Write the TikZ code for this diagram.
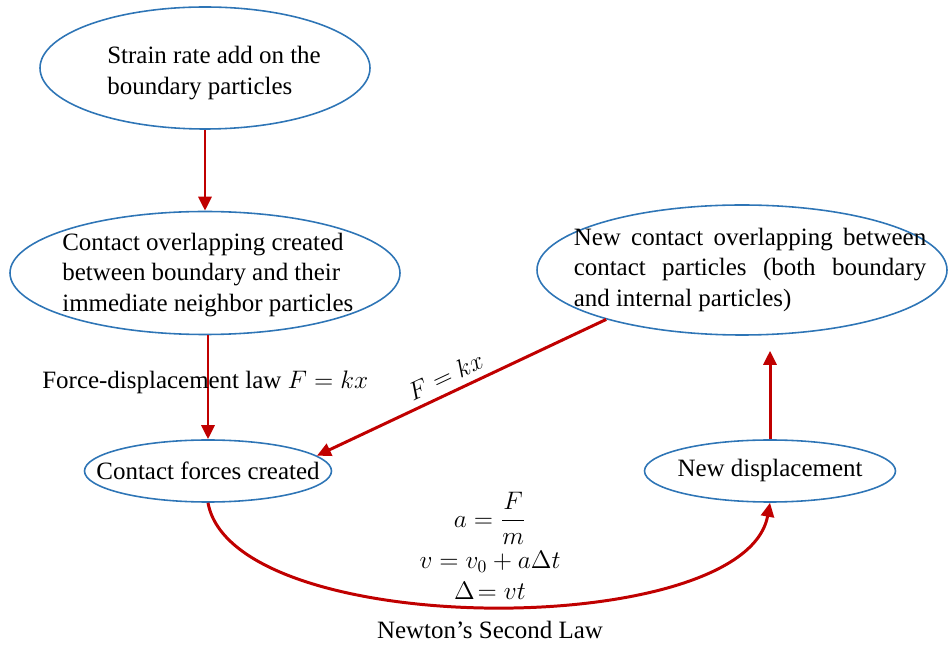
\documentclass[tikz,border=0pt]{standalone}
\usepackage{amsmath}
\usepackage{fontspec}
\setmainfont{Liberation Serif}
\usetikzlibrary{shapes.geometric, positioning, arrows.meta, calc}
\definecolor{ellblue}{RGB}{46,117,182}
\definecolor{arrred}{RGB}{192,0,0}
\tikzset{
  bubble/.style={ellipse, draw=ellblue, line width=0.9pt, inner sep=0pt},
  flow/.style={draw=arrred, line width=1.7pt, -{Triangle[length=0.28cm,width=0.26cm]}},
  txt/.style={font=\fontsize{14.2}{17.4}\selectfont, inner sep=0pt}
}

\begin{document}
\begin{tikzpicture}
        \useasboundingbox (0,0) rectangle (18.96,12.9);

        % Ellipses
        \node[bubble, minimum width=6.6cm, minimum height=2.44cm] (strain) at (4.1,11.54) {};
        \node[bubble, minimum width=7.8cm, minimum height=2.46cm] (overlap) at (4.1,7.44) {};
        \node[bubble, minimum width=8.2cm, minimum height=2.6cm] (newover) at (14.84,7.5) {};
        \node[bubble, minimum width=4.94cm, minimum height=1.24cm] (forces) at (4.16,3.48) {};
        \node[bubble, minimum width=5.02cm, minimum height=1.24cm] (newdisp) at (15.4,3.48) {};

        % Texts inside the ellipses
        \node[txt, align=left, anchor=west] (straintxt) at (2.14,11.44) {Strain rate add on the\\boundary particles};
        \node[txt, align=left, anchor=west] (overlaptxt) at (1.24,7.4) {Contact overlapping created\\between boundary and their\\immediate neighbor particles};
        \node[txt, text width=7.05cm, align=justify] (newovertxt) at (15.0,7.5) {New contact overlapping between\linebreak contact particles (both boundary\linebreak and internal particles)};
        \node[txt] (forcestxt) at (forces) {Contact forces created};
        \node[txt] (newdisptxt) at (newdisp) {New displacement};

        % Straight arrows
        \draw[flow] (strain.south) -- (overlap.north);
        \draw[flow] (forces.north |- overlap.south) -- (forces.north);
        \draw[flow] (newover.200) -- node[txt, sloped, above=4pt, pos=0.53] {$F = kx$} (forces.8);
        \draw[flow, shorten >=0.3cm] (newdisp.north) -- (newdisp.north |- newover.south);

        % Newton's law curve
        \draw[flow] (forces.south) .. controls (4.66,0.08) and (14.9,0.08) .. (newdisp.south);

        % Labels
        \node[txt, anchor=west] (lawlbl) at (0.84,5.26) {Force-displacement law $F = kx$};
        \node[txt, align=center] (newtoneq) at (9.8,1.98) {$a = \dfrac{F}{m}$\\[3pt] $v = v_0 + a\Delta t$\\ $\Delta\!= vt$};
        \node[txt] (newtonlbl) at (9.8,0.3) {Newton's Second Law};

    \end{tikzpicture}
\end{document}
